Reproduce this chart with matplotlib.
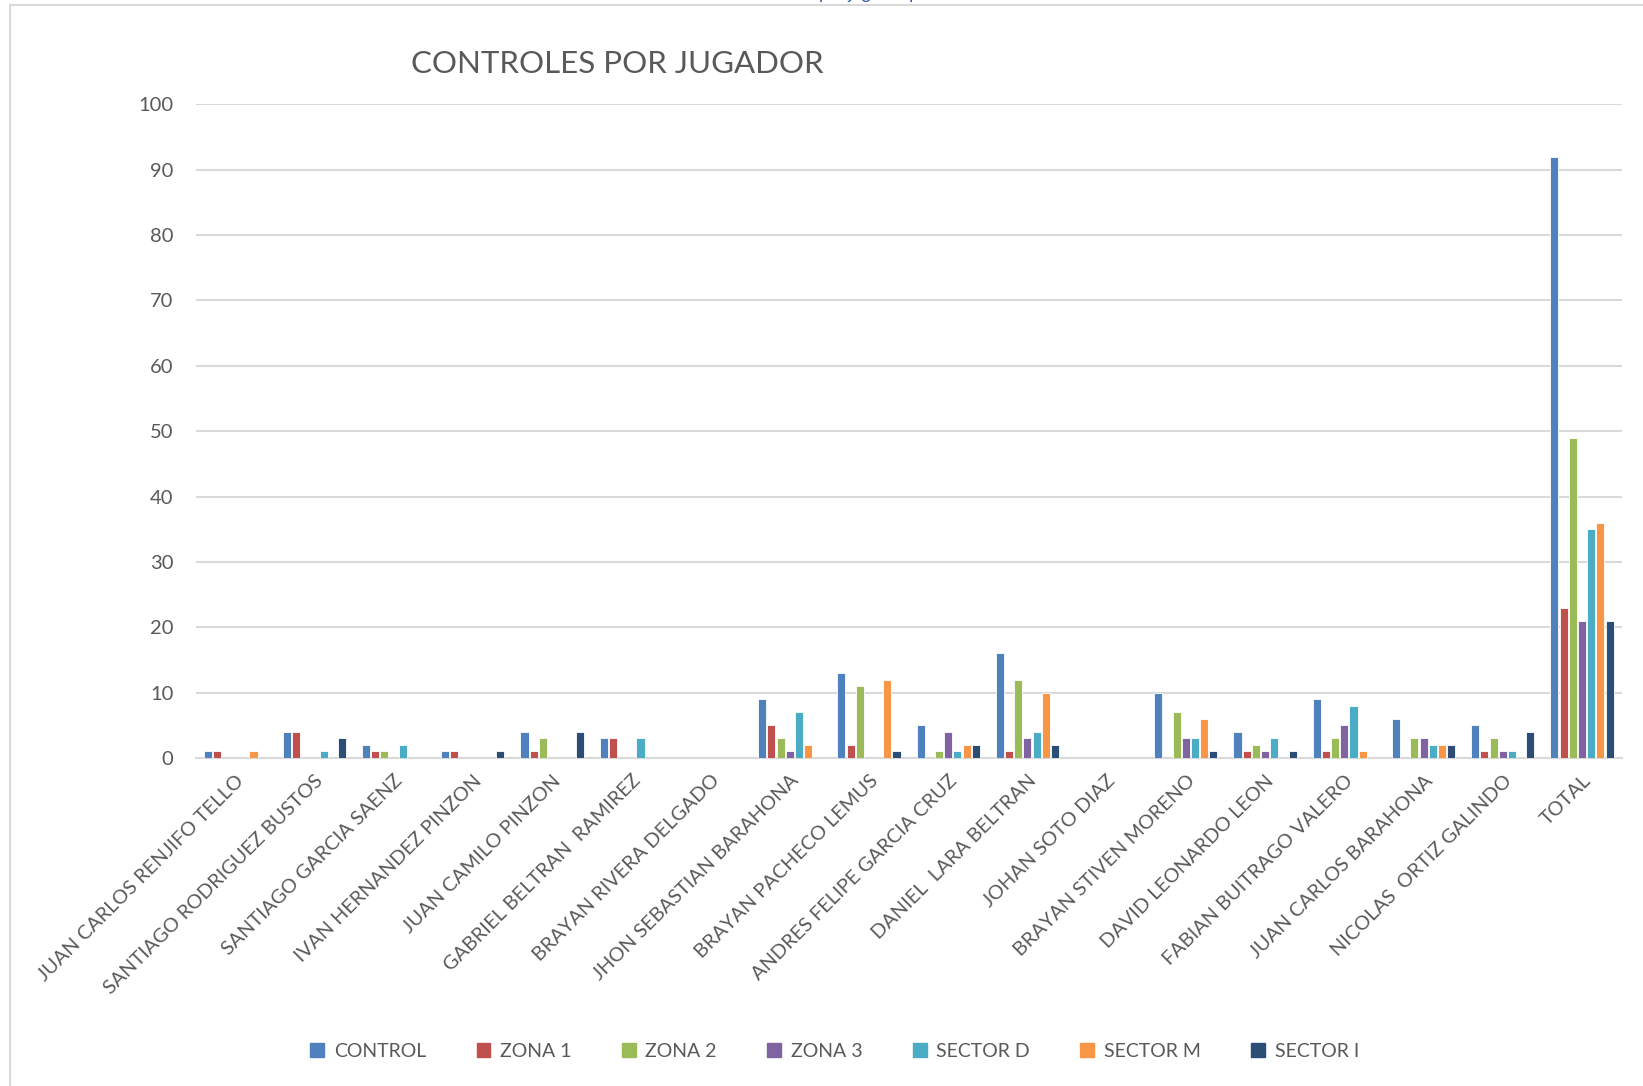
import numpy as np
import matplotlib
matplotlib.use('Agg')
from matplotlib import pyplot as plt
from matplotlib.lines import Line2D

plt.rcParams['font.family'] = ['Lato', 'DejaVu Sans']

# Players (categories)
players = [
    'JUAN CARLOS RENJIFO TELLO', 'SANTIAGO RODRIGUEZ BUSTOS', 'SANTIAGO GARCIA SAENZ',
    'IVAN HERNANDEZ PINZON', 'JUAN CAMILO PINZON', 'GABRIEL BELTRAN  RAMIREZ',
    'BRAYAN RIVERA DELGADO', 'JHON SEBASTIAN BARAHONA', 'BRAYAN PACHECO LEMUS',
    'ANDRES FELIPE GARCIA CRUZ', 'DANIEL  LARA BELTRAN', 'JOHAN SOTO DIAZ',
    'BRAYAN STIVEN MORENO', 'DAVID LEONARDO LEON', 'FABIAN BUITRAGO VALERO',
    'JUAN CARLOS BARAHONA', 'NICOLAS  ORTIZ GALINDO', 'TOTAL',
]

# Series values, one per player
control  = [1, 4, 2, 1, 4, 3, 0, 9, 13, 5, 16, 0, 10, 4, 9, 6, 5, 92]
zona1    = [1, 4, 1, 1, 1, 3, 0, 5, 2, 0, 1, 0, 0, 1, 1, 0, 1, 23]
zona2    = [0, 0, 1, 0, 3, 0, 0, 3, 11, 1, 12, 0, 7, 2, 3, 3, 3, 49]
zona3    = [0, 0, 0, 0, 0, 0, 0, 1, 0, 4, 3, 0, 3, 1, 5, 3, 1, 21]
sector_d = [0, 1, 2, 0, 0, 3, 0, 7, 0, 1, 4, 0, 3, 3, 8, 2, 1, 35]
sector_m = [1, 0, 0, 0, 0, 0, 0, 2, 12, 2, 10, 0, 6, 0, 1, 2, 0, 36]
sector_i = [0, 3, 0, 1, 4, 0, 0, 0, 1, 2, 2, 0, 1, 1, 0, 2, 4, 21]

series_names = ['CONTROL', 'ZONA 1', 'ZONA 2', 'ZONA 3', 'SECTOR D', 'SECTOR M', 'SECTOR I']
series_vals = [control, zona1, zona2, zona3, sector_d, sector_m, sector_i]
colors = ['#4F81BD', '#C0504D', '#9BBB59', '#8064A2', '#4BACC6', '#F79646', '#2C4D75']

fig = plt.figure(figsize=(16.43, 10.86), dpi=100)
fig.patch.set_facecolor('white')
ax = fig.add_axes([0.119, 0.302, 0.868, 0.602])

x = np.arange(len(players))
slot = 0.116
for i, (name, vals, c) in enumerate(zip(series_names, series_vals, colors)):
    offset = (i - 3) * slot
    ax.bar(x + offset, vals, width=slot * 0.88, color=c, edgecolor='white',
           linewidth=0.6, label=name, zorder=3)

ax.set_ylim(0, 100)
ax.set_yticks(range(0, 101, 10))
ax.set_xlim(-0.5, len(players) - 0.5)
ax.yaxis.grid(True, color='#D9D9D9', linewidth=1.5, zorder=0)
ax.set_axisbelow(True)
for s in ['top', 'right', 'left']:
    ax.spines[s].set_visible(False)
ax.spines['bottom'].set_color('#D9D9D9')
ax.spines['bottom'].set_linewidth(1.5)
ax.tick_params(axis='both', length=0, colors='#595959', labelsize=14.5)
ax.tick_params(axis='y', pad=16)
ax.set_xticks(x)
ax.set_xticklabels(players, rotation=45, ha='right', rotation_mode='anchor',
                   fontsize=14.3, color='#595959')
ax.tick_params(axis='x', pad=10)

# Title
fig.text(0.376, 0.941, 'CONTROLES POR JUGADOR', ha='center', va='center',
         fontsize=22.5, color='#595959')

# Legend
handles = [plt.Rectangle((0, 0), 1, 1, color=c) for c in colors]
fig.legend(handles, series_names, loc='center', bbox_to_anchor=(0.508, 0.032),
           ncol=7, frameon=False, fontsize=14, handlelength=0.7, handleheight=0.7,
           handletextpad=0.5, columnspacing=2.6, labelcolor='#595959')

# Chart border (cut by the page)
fig.add_artist(Line2D([10 / 1643, 1], [1 - 5 / 1086, 1 - 5 / 1086], color='#D9D9D9', lw=1.5))
fig.add_artist(Line2D([10 / 1643, 10 / 1643], [0, 1 - 5 / 1086], color='#D9D9D9', lw=1.5))

# Cut-off text above the chart
fig.text(820 / 1643, 1 + 1 / 1086, 'por jugador por', ha='left', va='baseline',
         fontsize=13, style='italic', color='#2F5597')

fig.savefig('out.png', dpi=100, facecolor='white')
